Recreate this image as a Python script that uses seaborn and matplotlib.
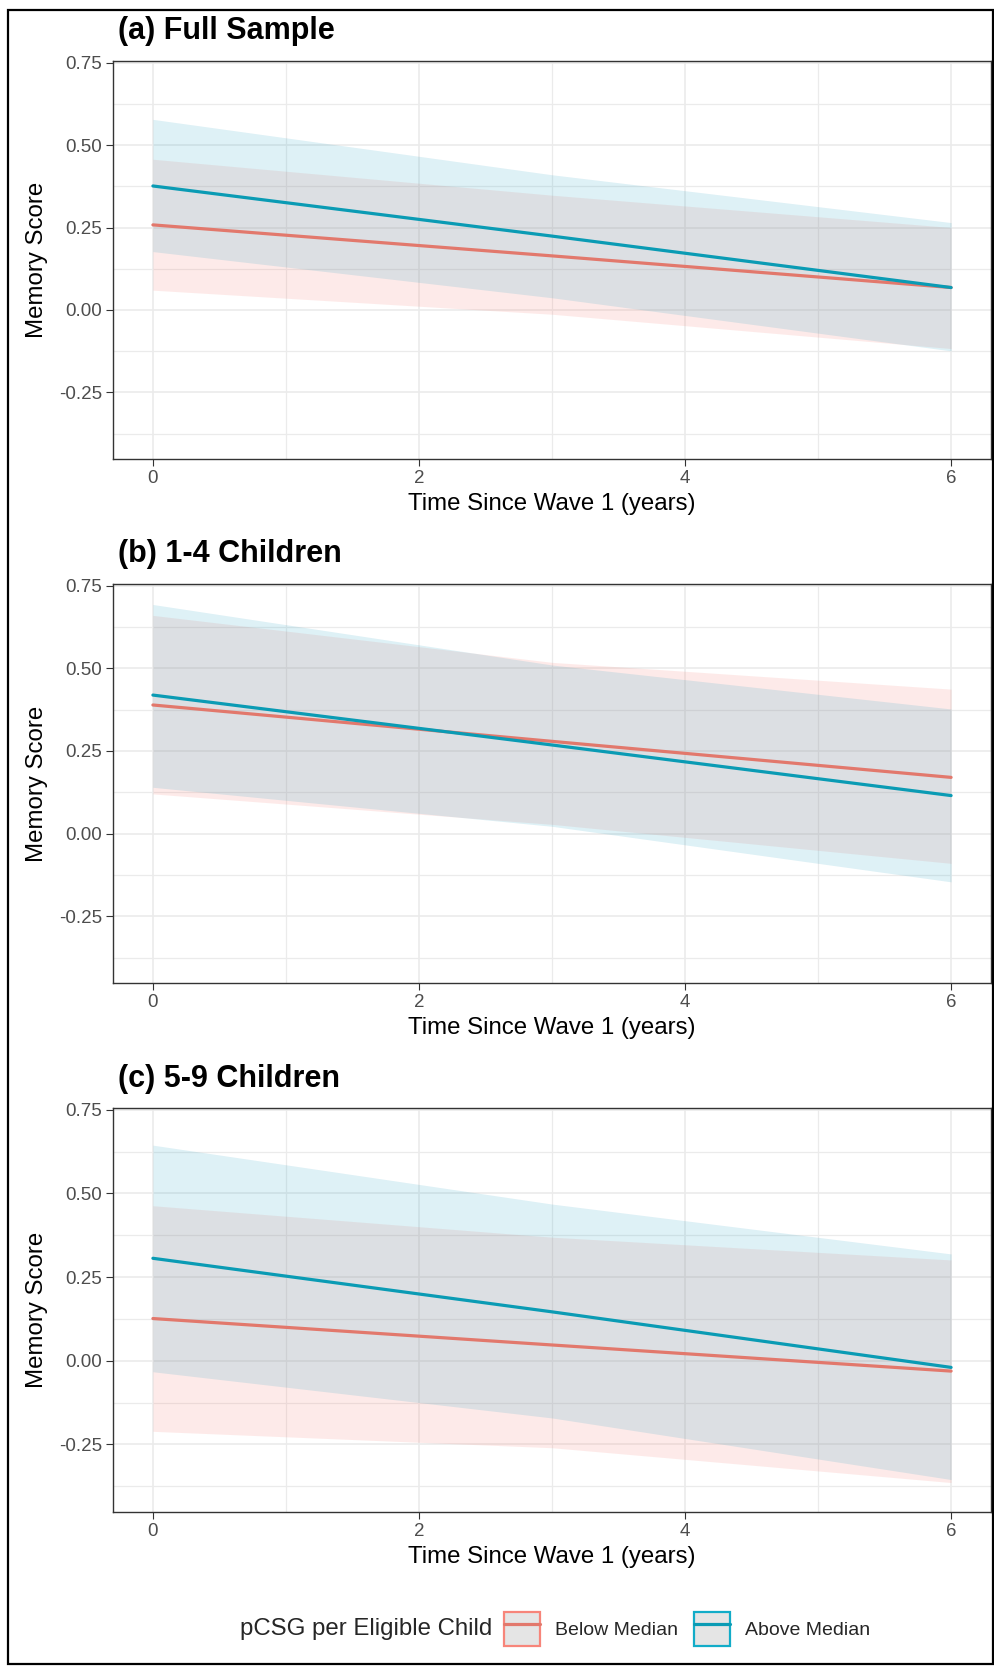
import matplotlib
matplotlib.use("Agg")
import numpy as np
import pandas as pd
import matplotlib.pyplot as plt
import seaborn as sns
from matplotlib.patches import Patch, Rectangle
from matplotlib.lines import Line2D
from matplotlib.ticker import MultipleLocator, FixedLocator, FuncFormatter

# values (predicted memory score with 95% band)
time_years = [0, 3, 6]
groups = ["Below Median", "Above Median"]
panel_titles = ["(a) Full Sample", "(b) 1-4 Children", "(c) 5-9 Children"]

full_below_fit = [0.258, 0.164, 0.068]
full_below_lo = [0.060, -0.013, -0.117]
full_below_hi = [0.457, 0.348, 0.250]
full_above_fit = [0.376, 0.224, 0.068]
full_above_lo = [0.177, 0.037, -0.124]
full_above_hi = [0.578, 0.410, 0.265]

few_below_fit = [0.389, 0.279, 0.170]
few_below_lo = [0.120, 0.028, -0.090]
few_below_hi = [0.660, 0.518, 0.437]
few_above_fit = [0.419, 0.268, 0.115]
few_above_lo = [0.140, 0.022, -0.146]
few_above_hi = [0.693, 0.510, 0.377]

many_below_fit = [0.126, 0.047, -0.031]
many_below_lo = [-0.211, -0.260, -0.364]
many_below_hi = [0.463, 0.369, 0.301]
many_above_fit = [0.306, 0.146, -0.020]
many_above_lo = [-0.033, -0.171, -0.355]
many_above_hi = [0.644, 0.468, 0.319]

line_colors = {"Below Median": "#E2786C", "Above Median": "#0A9BB4"}
fill_colors = {"Below Median": "#F8766D", "Above Median": "#23A2C3"}
key_edges = {"Below Median": "#F7857A", "Above Median": "#12ACC8"}


def make_panel_df(below, above):
    rows = []
    for grp, (fit, lo, hi) in zip(groups, [below, above]):
        for t, f, l, h in zip(time_years, fit, lo, hi):
            rows.append({"time": t, "score": f, "lo": l, "hi": h, "group": grp})
    return pd.DataFrame(rows)


panels = [
    make_panel_df((full_below_fit, full_below_lo, full_below_hi), (full_above_fit, full_above_lo, full_above_hi)),
    make_panel_df((few_below_fit, few_below_lo, few_below_hi), (few_above_fit, few_above_lo, few_above_hi)),
    make_panel_df((many_below_fit, many_below_lo, many_below_hi), (many_above_fit, many_above_lo, many_above_hi)),
]

sns.set_theme(style="white")
plt.rcParams['font.family'] = ['Liberation Sans', 'DejaVu Sans']
plt.rcParams['axes.unicode_minus'] = False

W, H = 995, 1667
fig = plt.figure(figsize=(W / 100, H / 100), dpi=100)

# panel boxes in pixels: (top, bottom)
panel_px = [(61, 459), (584, 983), (1108, 1512)]
title_y = [31, 554, 1079]
left_px, right_px = 113, 991

for i, df in enumerate(panels):
    top, bottom = panel_px[i]
    ax = fig.add_axes([left_px / W, 1 - bottom / H, (right_px - left_px) / W, (bottom - top) / H])
    ax.set_axisbelow(True)

    for grp in groups:
        sub = df[df["group"] == grp]
        ax.fill_between(sub["time"], sub["lo"], sub["hi"], color=fill_colors[grp], alpha=0.15, lw=0, zorder=1)

    sns.lineplot(data=df, x="time", y="score", hue="group", hue_order=groups,
                 palette=line_colors, lw=2.3, ax=ax, legend=False, zorder=3)

    ax.set_xlim(-0.3, 6.3)
    ax.set_ylim(-0.452, 0.755)
    ax.xaxis.set_major_locator(FixedLocator([0, 2, 4, 6]))
    ax.xaxis.set_minor_locator(FixedLocator([1, 3, 5]))
    ax.yaxis.set_major_locator(MultipleLocator(0.25))
    ax.yaxis.set_minor_locator(FixedLocator([-0.375, -0.125, 0.125, 0.375, 0.625]))
    ax.yaxis.set_major_formatter(FuncFormatter(lambda v, p: f"{v:.2f}"))
    ax.xaxis.set_major_formatter(FuncFormatter(lambda v, p: f"{v:.0f}"))

    ax.grid(which="major", color="#EBEBEB", lw=1.2)
    ax.grid(which="minor", color="#EBEBEB", lw=0.9)
    ax.tick_params(which="major", length=5, width=0.8, color="#333333", pad=3,
                   labelsize=13.5, labelcolor="#4D4D4D", bottom=True, left=True)
    ax.tick_params(which="minor", length=0)
    for sp in ax.spines.values():
        sp.set_color("#333333")
        sp.set_linewidth(1.0)

    ax.set_xlabel("Time Since Wave 1 (years)", fontsize=17.3, color="black", labelpad=4)
    ax.set_ylabel("Memory Score", fontsize=17.3, color="black", labelpad=8)

    fig.text(118 / W, 1 - title_y[i] / H, panel_titles[i], fontsize=22, fontweight="bold",
             ha="left", va="center", color="black")

# legend: title on the left, keys to the right
leg_y = 1 - 1629 / H
fig.text(492 / W, leg_y, "pCSG per Eligible Child", fontsize=17.3, ha="right", va="center")
handles = []
for grp in groups:
    box = Patch(facecolor="#E5E5E5", edgecolor=key_edges[grp], lw=1.6)
    ln = Line2D([], [], color=line_colors[grp], lw=2.3)
    handles.append((box, ln))
fig.legend(handles, groups, loc="center left", bbox_to_anchor=(504 / W, leg_y), ncol=2,
           frameon=False, fontsize=14, handlelength=1.85, handleheight=2.3,
           handletextpad=0.75, columnspacing=0.85, borderpad=0, borderaxespad=0)

# outer frame around the whole figure
fig.add_artist(Rectangle((8 / W, 3 / H), (993 - 8) / W, (H - 10 - 3) / H, transform=fig.transFigure,
                         fill=False, edgecolor="black", lw=1.6))

fig.savefig("out.png", dpi=100)
